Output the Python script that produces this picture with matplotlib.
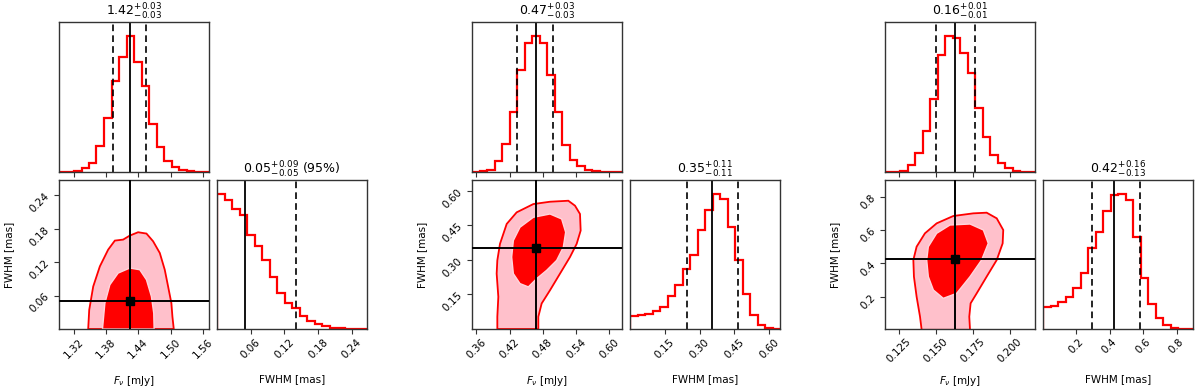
import numpy as np
import matplotlib
matplotlib.use("Agg")
import matplotlib.pyplot as plt

# axis ranges (F_nu and FWHM) for the three sources
fnu_range = [(1.293, 1.571), (0.3522, 0.6229), (0.1160, 0.2171)]
fwhm_range = [(0.0, 0.267), (0.0, 0.646), (0.005, 0.900)]

# 1d marginal histograms (20 bins over the axis range, relative counts)
fnu_hist_1 = [0, 1, 4, 11, 28, 79, 161, 274, 346, 410, 331, 258, 144, 76, 32, 16, 6, 2, 1, 0]
fwhm_hist_1 = [410, 391, 363, 345, 285, 250, 208, 158, 108, 80, 65, 38, 23, 16, 8, 4, 2, 1, 1, 1]
fnu_hist_2 = [0, 2, 6, 34, 84, 181, 306, 386, 409, 386, 291, 181, 81, 36, 19, 6, 2, 1, 0, 0]
fwhm_hist_2 = [40, 41, 45, 55, 68, 100, 133, 183, 223, 300, 360, 410, 393, 308, 210, 106, 41, 13, 4, 1]
fnu_hist_3 = [0, 1, 4, 22, 58, 124, 218, 351, 409, 403, 356, 298, 193, 106, 51, 26, 13, 4, 1, 0]
fwhm_hist_3 = [65, 70, 80, 95, 123, 168, 243, 293, 356, 403, 408, 388, 278, 153, 76, 33, 11, 3, 1, 0]

# 2d credible regions (outer / inner), traced outlines
outer_x_1 = [1.3471, 1.3490, 1.3564, 1.3687, 1.3841, 1.3965, 1.4119, 1.4242, 1.4396, 1.4551,
             1.4674, 1.4798, 1.4890, 1.4952, 1.5013, 1.5032, 1.5057]
outer_y_1 = [0.0, 0.0342, 0.0762, 0.1122, 0.1422, 0.1584, 0.1602, 0.1674, 0.1734, 0.1710,
             0.1572, 0.1362, 0.1062, 0.0762, 0.0462, 0.0222, 0.0]
inner_x_1 = [1.3736, 1.3780, 1.3872, 1.4026, 1.4242, 1.4427, 1.4551, 1.4643, 1.4686, 1.4693]
inner_y_1 = [0.0, 0.0462, 0.0792, 0.1002, 0.1092, 0.1062, 0.0882, 0.0582, 0.0282, 0.0]

outer_x_2 = [0.3979, 0.3979, 0.3997, 0.3967, 0.3979, 0.4027, 0.4148, 0.4328, 0.4629, 0.4930,
             0.5260, 0.5381, 0.5471, 0.5483, 0.5411, 0.5290, 0.5110, 0.4930, 0.4779, 0.4719, 0.4719]
outer_y_2 = [0.0, 0.0532, 0.1394, 0.2400, 0.2975, 0.3693, 0.4555, 0.5058, 0.5417, 0.5518,
             0.5561, 0.5346, 0.4986, 0.4268, 0.3693, 0.3118, 0.2400, 0.1681, 0.1106, 0.0532, 0.0]
inner_x_2 = [0.4268, 0.4238, 0.4268, 0.4388, 0.4629, 0.4930, 0.5140, 0.5212, 0.5170, 0.5050,
             0.4869, 0.4689, 0.4539, 0.4388]
inner_y_2 = [0.2400, 0.3118, 0.3837, 0.4412, 0.4843, 0.4986, 0.4771, 0.4196, 0.3549, 0.2975,
             0.2543, 0.2184, 0.1825, 0.1969]

outer_x_3 = [0.1405, 0.1394, 0.1371, 0.1353, 0.1349, 0.1371, 0.1427, 0.1506, 0.1618, 0.1753,
             0.1843, 0.1911, 0.1955, 0.1951, 0.1911, 0.1843, 0.1776, 0.1735, 0.1726, 0.1731]
outer_y_3 = [0.0, 0.0791, 0.1992, 0.3193, 0.4194, 0.4995, 0.5796, 0.6396, 0.6837, 0.6997,
             0.7037, 0.6697, 0.5996, 0.5195, 0.4194, 0.3193, 0.2192, 0.1592, 0.0791, 0.0]
inner_x_3 = [0.1450, 0.1439, 0.1450, 0.1506, 0.1596, 0.1731, 0.1821, 0.1854, 0.1809, 0.1731,
             0.1641, 0.1551, 0.1484]
inner_y_3 = [0.3193, 0.4194, 0.4995, 0.5796, 0.6296, 0.6356, 0.5996, 0.5195, 0.4194, 0.3193,
             0.2192, 0.1892, 0.2392]

# medians and 68% (or 95%) bounds
fnu_med = [1.4243, 0.4677, 0.1629]
fnu_lo = [1.394, 0.4329, 0.150]
fnu_hi = [1.454, 0.499, 0.1764]
fwhm_med = [0.050, 0.352, 0.425]
fwhm_lo = [0.0, 0.244, 0.296]
fwhm_hi = [0.140, 0.466, 0.582]

fnu_titles = [r"$1.42_{-0.03}^{+0.03}$", r"$0.47_{-0.03}^{+0.03}$", r"$0.16_{-0.01}^{+0.01}$"]
fwhm_titles = [r"$0.05_{-0.05}^{+0.09}$ (95%)", r"$0.35_{-0.11}^{+0.11}$", r"$0.42_{-0.13}^{+0.16}$"]

fnu_ticks = [[1.32, 1.38, 1.44, 1.50, 1.56], [0.36, 0.42, 0.48, 0.54, 0.60], [0.125, 0.150, 0.175, 0.200]]
fnu_ticklabels = [["1.32", "1.38", "1.44", "1.50", "1.56"], ["0.36", "0.42", "0.48", "0.54", "0.60"],
                  ["0.125", "0.150", "0.175", "0.200"]]
fwhm_ticks = [[0.06, 0.12, 0.18, 0.24], [0.15, 0.30, 0.45, 0.60], [0.2, 0.4, 0.6, 0.8]]
fwhm_ticklabels = [["0.06", "0.12", "0.18", "0.24"], ["0.15", "0.30", "0.45", "0.60"],
                   ["0.2", "0.4", "0.6", "0.8"]]

fnu_hists = [fnu_hist_1, fnu_hist_2, fnu_hist_3]
fwhm_hists = [fwhm_hist_1, fwhm_hist_2, fwhm_hist_3]
outers = [(outer_x_1, outer_y_1), (outer_x_2, outer_y_2), (outer_x_3, outer_y_3)]
inners = [(inner_x_1, inner_y_1), (inner_x_2, inner_y_2), (inner_x_3, inner_y_3)]

W, H = 1200.0, 388.0
FS = 7.5
SPINE = "0.2"


def pix_axes(fig, x0, ytop, w, h):
	return fig.add_axes([x0 / W, 1 - (ytop + h) / H, w / W, h / H])


def style(ax):
	for s in ax.spines.values():
		s.set_color(SPINE)
		s.set_linewidth(1.0)
	ax.tick_params(direction="out", length=3.5, width=0.8, color=SPINE, labelsize=FS, pad=2)


def draw_hist(ax, values, rng, med, lo, hi):
	edges = np.linspace(rng[0], rng[1], len(values) + 1)
	ax.stairs(values, edges, color="red", lw=1.6)
	ax.set_xlim(rng)
	ax.set_ylim(0, 1.1 * max(values))
	ax.axvline(lo, color="k", ls="--", lw=1.2, dashes=(4, 2.5))
	ax.axvline(hi, color="k", ls="--", lw=1.2, dashes=(4, 2.5))
	ax.axvline(med, color="k", lw=1.3)
	ax.set_yticks([])


def draw_corner(fig, i, left):
	ax_top = pix_axes(fig, left, 22, 150, 150)
	ax_2d = pix_axes(fig, left, 180, 150, 149)
	ax_r = pix_axes(fig, left + 158, 180, 150, 149)
	for ax in (ax_top, ax_2d, ax_r):
		style(ax)

	draw_hist(ax_top, fnu_hists[i], fnu_range[i], fnu_med[i], fnu_lo[i], fnu_hi[i])
	ax_top.set_xticks(fnu_ticks[i])
	ax_top.set_xticklabels([])
	ax_top.set_title(fnu_titles[i], fontsize=9, pad=3)

	draw_hist(ax_r, fwhm_hists[i], fwhm_range[i], fwhm_med[i], fwhm_lo[i], fwhm_hi[i])
	ax_r.set_xticks(fwhm_ticks[i])
	ax_r.set_xticklabels(fwhm_ticklabels[i], rotation=45)
	ax_r.set_xlabel("FWHM [mas]", fontsize=FS)
	ax_r.xaxis.set_label_coords(0.5, -0.3)
	ax_r.set_title(fwhm_titles[i], fontsize=9, pad=3)

	ox, oy = outers[i]
	ix, iy = inners[i]
	ax_2d.fill(ox, oy, facecolor="pink", edgecolor="red", lw=1.3, zorder=1)
	ax_2d.fill(ix, iy, facecolor="red", edgecolor="#ffd6dc", lw=1.0, zorder=2)
	ax_2d.axvline(fnu_med[i], color="k", lw=1.4, zorder=3)
	ax_2d.axhline(fwhm_med[i], color="k", lw=1.4, zorder=3)
	ax_2d.plot([fnu_med[i]], [fwhm_med[i]], "s", color="k", ms=5.5, zorder=4)
	ax_2d.set_xlim(fnu_range[i])
	ax_2d.set_ylim(fwhm_range[i])
	ax_2d.set_xticks(fnu_ticks[i])
	ax_2d.set_xticklabels(fnu_ticklabels[i], rotation=45)
	ax_2d.set_yticks(fwhm_ticks[i])
	ax_2d.set_yticklabels(fwhm_ticklabels[i], rotation=45)
	ax_2d.set_xlabel(r"$F_\nu$ [mJy]", fontsize=FS)
	ax_2d.set_ylabel("FWHM [mas]", fontsize=FS)
	ax_2d.xaxis.set_label_coords(0.5, -0.3)
	ax_2d.yaxis.set_label_coords(-0.3, 0.5)


fig = plt.figure(figsize=(W / 100, H / 100), dpi=100)
for i, left in enumerate([59, 472, 885.3]):
	draw_corner(fig, i, left)

fig.savefig("out.png", dpi=100)
